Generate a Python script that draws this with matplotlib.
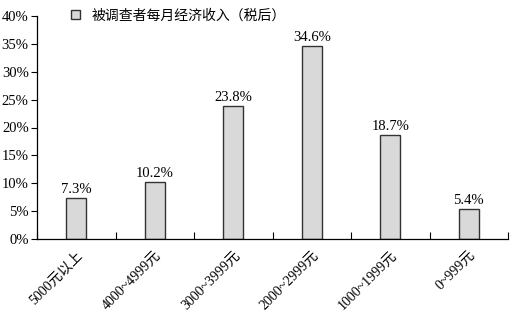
import numpy as np
import matplotlib.pyplot as plt
from matplotlib.ticker import FixedLocator, PercentFormatter

plt.rcParams['font.family'] = ['Liberation Serif', 'Noto Sans CJK SC']

categories = ["5000元以上", "4000~4999元", "3000~3999元",
              "2000~2999元", "1000~1999元", "0~999元"]
values = [7.3, 10.2, 23.8, 34.6, 18.7, 5.4]
series_name = "被调查者每月经济收入（税后）"

fig = plt.figure(figsize=(5.17, 3.16), dpi=100)
ax = fig.add_axes([37 / 517, 1 - 239 / 316, 471 / 517, 223 / 316])

x = np.arange(len(categories))
bars = ax.bar(x, values, 0.26, color="#d9d9d9", edgecolor="#333333",
              linewidth=1.0, label=series_name)

for xi, v in zip(x, values):
    ax.text(xi, v + 0.4, "%.1f%%" % v, ha="center", va="bottom", fontsize=10.5)

ax.set_xlim(-0.5, len(categories) - 0.5)
ax.set_ylim(0, 40)
ax.set_yticks(np.arange(0, 41, 5))
ax.yaxis.set_major_formatter(PercentFormatter(decimals=0))
ax.tick_params(axis="y", direction="out", length=4, width=0.8, labelsize=10.5, pad=2)

# category labels sit under the bars, ticks sit between them
ax.set_xticks(x)
ax.set_xticklabels(categories, rotation=45, ha="right", rotation_mode="anchor",
                   fontsize=10)
ax.tick_params(axis="x", which="major", length=0, pad=7)
ax.xaxis.set_minor_locator(FixedLocator(np.arange(-0.5, len(categories), 1.0)))
ax.tick_params(axis="x", which="minor", direction="in", length=5, width=0.8)

for s in ["top", "right"]:
    ax.spines[s].set_visible(False)
ax.spines["left"].set_linewidth(0.9)
ax.spines["bottom"].set_linewidth(0.9)

ax.legend(loc="upper left", bbox_to_anchor=(0.045, 1.09), frameon=False,
          handlelength=0.7, handleheight=0.7, handletextpad=0.8,
          prop={"family": ["Noto Sans CJK SC"], "size": 10})

plt.savefig("out.png", dpi=100)
